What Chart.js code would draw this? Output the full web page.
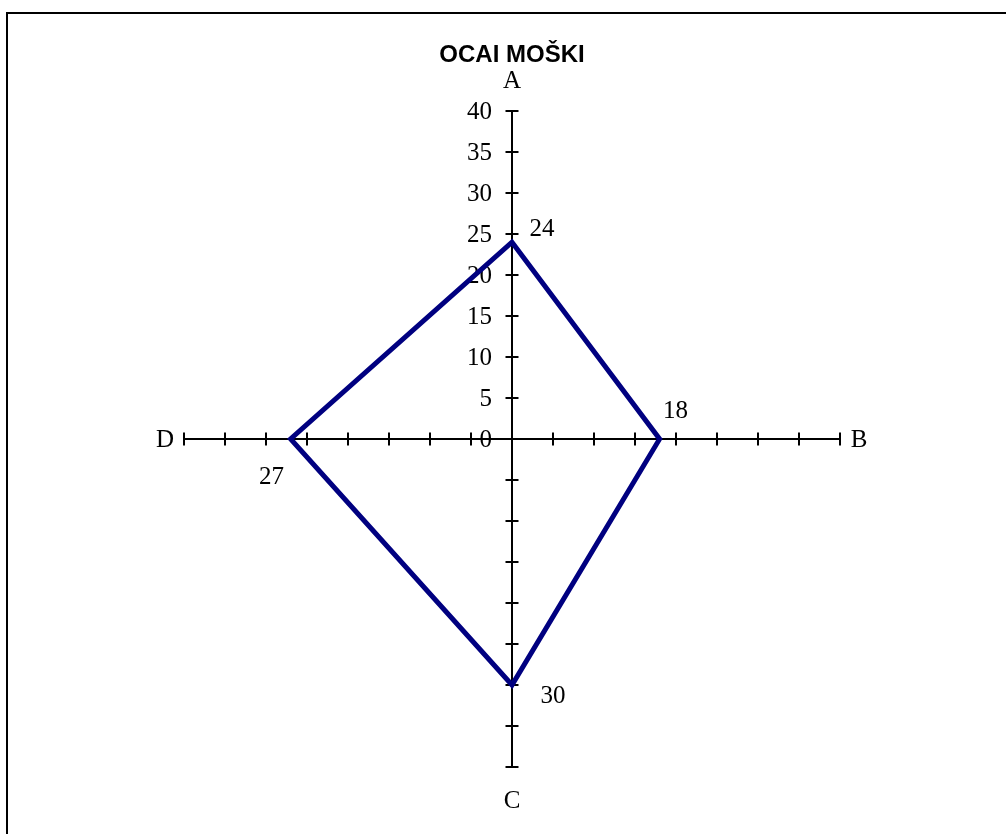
<!DOCTYPE html>
<html>
<head>
<meta charset="utf-8">
<script src="https://cdn.jsdelivr.net/npm/chart.js@4/dist/chart.umd.min.js"></script>
<style>
  body { margin: 0; background: #fff; }
  #wrap { position: relative; width: 1006px; height: 834px; overflow: hidden; }
  #chart { position: absolute; left: 0; top: 0; }
  #frame { position: absolute; left: 6px; top: 12px; width: 1100px; height: 900px;
           border-top: 2px solid #000; border-left: 2px solid #000; pointer-events: none; }
</style>
</head>
<body>
<div id="wrap">
  <canvas id="chart" width="1006" height="834"></canvas>
  <div id="frame"></div>
</div>
<script>
// data
let categories = ["A", "B", "C", "D"];
let values = [24, 18, 30, 27];
let tickValues = [0, 5, 10, 15, 20, 25, 30, 35, 40];

const serif = "'Liberation Serif', 'Times New Roman', serif";
// where each value label sits relative to its point (dx, dy)
const labelOffsets = [[30, -13], [16, -28], [41, 11], [-19, 38]];

const axisMarks = {
    id: 'axisMarks',
    beforeDatasetsDraw(chart) {
        const ctx = chart.ctx;
        const r = chart.scales.r;
        ctx.save();
        ctx.strokeStyle = '#000';
        ctx.lineWidth = 2;
        // little tick marks across each axis
        for (let i = 0; i < categories.length; i++) {
            const a = r.getIndexAngle(i) - Math.PI / 2;
            const px = -Math.sin(a), py = Math.cos(a);
            tickValues.forEach(v => {
                if (v === 0) return;
                const p = r.getPointPosition(i, r.getDistanceFromCenterForValue(v));
                ctx.beginPath();
                ctx.moveTo(p.x - px * 6.5, p.y - py * 6.5);
                ctx.lineTo(p.x + px * 6.5, p.y + py * 6.5);
                ctx.stroke();
            });
        }
        // tick labels only along A
        ctx.fillStyle = '#000';
        ctx.font = '25px ' + serif;
        ctx.textAlign = 'right';
        ctx.textBaseline = 'middle';
        tickValues.forEach(v => {
            const p = r.getPointPosition(0, r.getDistanceFromCenterForValue(v));
            ctx.fillText(String(v), p.x - 20, p.y + 1);
        });
        // axis names
        ctx.textAlign = 'center';
        const outer = r.getDistanceFromCenterForValue(40);
        const nameGap = [31, 19, 33, 19];
        categories.forEach((c, i) => {
            const p = r.getPointPosition(i, outer + nameGap[i]);
            ctx.fillText(c, p.x, p.y + 1);
        });
        ctx.restore();
    },
    afterDatasetsDraw(chart) {
        const ctx = chart.ctx;
        const meta = chart.getDatasetMeta(0);
        ctx.save();
        ctx.fillStyle = '#000';
        ctx.font = '25px ' + serif;
        ctx.textAlign = 'center';
        ctx.textBaseline = 'middle';
        meta.data.forEach((pt, i) => {
            ctx.fillText(String(values[i]), pt.x + labelOffsets[i][0], pt.y + labelOffsets[i][1]);
        });
        ctx.restore();
    }
};

let ctx = document.getElementById("chart").getContext('2d');

let myChart = new Chart(ctx, {
    type: 'radar',
    data: {
        labels: categories,
        datasets: [{
            data: values,
            borderColor: '#000080',
            borderWidth: 5,
            fill: false,
            pointRadius: 0,
            pointHoverRadius: 0,
            tension: 0
        }]
    },
    options: {
        responsive: false,
        animation: false,
        events: [],
        layout: {
            padding: { left: 184, right: 166, top: 41, bottom: 67 }
        },
        plugins: {
            legend: { display: false },
            tooltip: { enabled: false },
            title: {
                display: true,
                text: 'OCAI MOŠKI',
                color: '#000',
                font: { family: "'Liberation Sans', Arial, sans-serif", size: 24, weight: 'bold', lineHeight: 1.2 },
                padding: { top: 0, bottom: 41.2 }
            }
        },
        scales: {
            r: {
                min: 0,
                max: 40,
                ticks: { display: false, stepSize: 5 },
                grid: { display: false },
                pointLabels: { display: false },
                angleLines: { display: true, color: '#000', lineWidth: 2 }
            }
        }
    },
    plugins: [axisMarks]
});
</script>
</body>
</html>
